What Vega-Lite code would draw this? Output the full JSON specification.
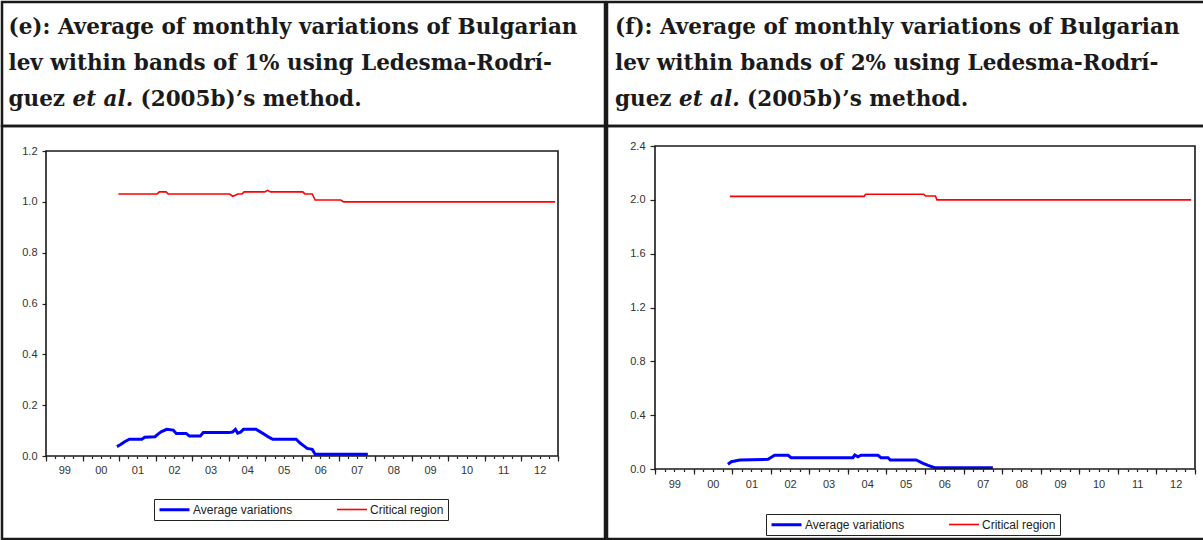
{
  "$schema": "https://vega.github.io/schema/vega-lite/v6.json",
  "padding": 0,
  "background": "white",
  "spacing": -2.5,
  "resolve": {"legend": {"color": "independent", "strokeWidth": "independent"}},
  "config": {
    "view": {"stroke": "#1a1a1a", "strokeWidth": 2.5},
    "font": "Liberation Sans"
  },
  "datasets": {
    "hE": [
      {"line": 1, "part": "a", "text": "(e): Average of monthly variations of Bulgarian"},
      {"line": 2, "part": "a", "text": "lev within bands of 1% using Ledesma-Rodrí-"},
      {"line": 3, "part": "a", "text": "guez"},
      {"line": 3, "part": "b", "text": "et al."},
      {"line": 3, "part": "c", "text": "(2005b)’s method."}
    ],
    "hF": [
      {"line": 1, "part": "a", "text": "(f): Average of monthly variations of Bulgarian"},
      {"line": 2, "part": "a", "text": "lev within bands of 2% using Ledesma-Rodrí-"},
      {"line": 3, "part": "a", "text": "guez"},
      {"line": 3, "part": "b", "text": "et al."},
      {"line": 3, "part": "c", "text": "(2005b)’s method."}
    ],
    "e": [
      {"t": 2000.94, "v": 0.037, "series": "Average variations"},
      {"t": 2001.04, "v": 0.045, "series": "Average variations"},
      {"t": 2001.14, "v": 0.055, "series": "Average variations"},
      {"t": 2001.28, "v": 0.066, "series": "Average variations"},
      {"t": 2001.62, "v": 0.066, "series": "Average variations"},
      {"t": 2001.70, "v": 0.074, "series": "Average variations"},
      {"t": 2001.98, "v": 0.076, "series": "Average variations"},
      {"t": 2002.08, "v": 0.088, "series": "Average variations"},
      {"t": 2002.16, "v": 0.096, "series": "Average variations"},
      {"t": 2002.30, "v": 0.105, "series": "Average variations"},
      {"t": 2002.48, "v": 0.102, "series": "Average variations"},
      {"t": 2002.56, "v": 0.089, "series": "Average variations"},
      {"t": 2002.83, "v": 0.089, "series": "Average variations"},
      {"t": 2002.92, "v": 0.079, "series": "Average variations"},
      {"t": 2003.22, "v": 0.079, "series": "Average variations"},
      {"t": 2003.30, "v": 0.092, "series": "Average variations"},
      {"t": 2004.00, "v": 0.092, "series": "Average variations"},
      {"t": 2004.10, "v": 0.094, "series": "Average variations"},
      {"t": 2004.18, "v": 0.105, "series": "Average variations"},
      {"t": 2004.24, "v": 0.090, "series": "Average variations"},
      {"t": 2004.32, "v": 0.094, "series": "Average variations"},
      {"t": 2004.40, "v": 0.105, "series": "Average variations"},
      {"t": 2004.74, "v": 0.105, "series": "Average variations"},
      {"t": 2004.86, "v": 0.095, "series": "Average variations"},
      {"t": 2004.98, "v": 0.085, "series": "Average variations"},
      {"t": 2005.08, "v": 0.075, "series": "Average variations"},
      {"t": 2005.20, "v": 0.066, "series": "Average variations"},
      {"t": 2005.84, "v": 0.066, "series": "Average variations"},
      {"t": 2005.94, "v": 0.052, "series": "Average variations"},
      {"t": 2006.06, "v": 0.039, "series": "Average variations"},
      {"t": 2006.14, "v": 0.030, "series": "Average variations"},
      {"t": 2006.28, "v": 0.026, "series": "Average variations"},
      {"t": 2006.36, "v": 0.007, "series": "Average variations"},
      {"t": 2007.80, "v": 0.007, "series": "Average variations"},
      {"t": 2000.98, "v": 1.031, "series": "Critical region"},
      {"t": 2002.04, "v": 1.031, "series": "Critical region"},
      {"t": 2002.10, "v": 1.039, "series": "Critical region"},
      {"t": 2002.28, "v": 1.039, "series": "Critical region"},
      {"t": 2002.34, "v": 1.031, "series": "Critical region"},
      {"t": 2004.02, "v": 1.031, "series": "Critical region"},
      {"t": 2004.10, "v": 1.022, "series": "Critical region"},
      {"t": 2004.18, "v": 1.026, "series": "Critical region"},
      {"t": 2004.24, "v": 1.031, "series": "Critical region"},
      {"t": 2004.36, "v": 1.031, "series": "Critical region"},
      {"t": 2004.42, "v": 1.039, "series": "Critical region"},
      {"t": 2004.98, "v": 1.039, "series": "Critical region"},
      {"t": 2005.06, "v": 1.045, "series": "Critical region"},
      {"t": 2005.14, "v": 1.039, "series": "Critical region"},
      {"t": 2006.02, "v": 1.039, "series": "Critical region"},
      {"t": 2006.08, "v": 1.031, "series": "Critical region"},
      {"t": 2006.28, "v": 1.031, "series": "Critical region"},
      {"t": 2006.36, "v": 1.007, "series": "Critical region"},
      {"t": 2007.06, "v": 1.007, "series": "Critical region"},
      {"t": 2007.14, "v": 1.000, "series": "Critical region"},
      {"t": 2012.92, "v": 1.000, "series": "Critical region"}
    ],
    "f": [
      {"t": 2000.89, "v": 0.035, "series": "Average variations"},
      {"t": 2000.98, "v": 0.054, "series": "Average variations"},
      {"t": 2001.20, "v": 0.067, "series": "Average variations"},
      {"t": 2001.93, "v": 0.072, "series": "Average variations"},
      {"t": 2002.10, "v": 0.102, "series": "Average variations"},
      {"t": 2002.45, "v": 0.102, "series": "Average variations"},
      {"t": 2002.53, "v": 0.084, "series": "Average variations"},
      {"t": 2004.13, "v": 0.084, "series": "Average variations"},
      {"t": 2004.18, "v": 0.104, "series": "Average variations"},
      {"t": 2004.26, "v": 0.090, "series": "Average variations"},
      {"t": 2004.34, "v": 0.102, "series": "Average variations"},
      {"t": 2004.78, "v": 0.102, "series": "Average variations"},
      {"t": 2004.86, "v": 0.084, "series": "Average variations"},
      {"t": 2005.04, "v": 0.084, "series": "Average variations"},
      {"t": 2005.10, "v": 0.067, "series": "Average variations"},
      {"t": 2005.77, "v": 0.067, "series": "Average variations"},
      {"t": 2005.95, "v": 0.042, "series": "Average variations"},
      {"t": 2006.08, "v": 0.027, "series": "Average variations"},
      {"t": 2006.25, "v": 0.010, "series": "Average variations"},
      {"t": 2007.76, "v": 0.010, "series": "Average variations"},
      {"t": 2000.94, "v": 2.026, "series": "Critical region"},
      {"t": 2004.42, "v": 2.026, "series": "Critical region"},
      {"t": 2004.46, "v": 2.041, "series": "Critical region"},
      {"t": 2005.97, "v": 2.041, "series": "Critical region"},
      {"t": 2006.01, "v": 2.028, "series": "Critical region"},
      {"t": 2006.27, "v": 2.028, "series": "Critical region"},
      {"t": 2006.31, "v": 2.000, "series": "Critical region"},
      {"t": 2012.90, "v": 2.000, "series": "Critical region"}
    ]
  },
  "hconcat": [
    {
      "spacing": 0,
      "bounds": "flush",
      "vconcat": [
        {
          "width": 603,
          "height": 124,
          "data": {"name": "hE"},
          "encoding": {
            "y": {"field": "line", "type": "ordinal", "axis": null, "scale": {"type": "point", "padding": 0.7}},
            "text": {"field": "text"}
          },
          "layer": [
            {"transform": [{"filter": "datum.part === 'a'"}], "mark": {"type": "text", "align": "left", "baseline": "middle", "font": "DejaVu Serif", "fontWeight": "bold", "fontSize": 21.5, "color": "#1a1a1a", "dx": -295}},
            {"transform": [{"filter": "datum.part === 'b'"}], "mark": {"type": "text", "align": "left", "baseline": "middle", "font": "DejaVu Serif", "fontWeight": "bold", "fontStyle": "italic", "fontSize": 21.5, "color": "#1a1a1a", "dx": -231}},
            {"transform": [{"filter": "datum.part === 'c'"}], "mark": {"type": "text", "align": "left", "baseline": "middle", "font": "DejaVu Serif", "fontWeight": "bold", "fontSize": 21.5, "color": "#1a1a1a", "dx": -163}}
          ]
        },
        {
          "width": 603,
          "height": 413,
          "data": {"name": "e"},
          "resolve": {"axis": {"x": "independent"}},
          "layer": [
            {
              "mark": {"type": "line", "interpolate": "linear"},
              "encoding": {
                "x": {
                  "field": "t", "type": "quantitative",
                  "scale": {"domain": [1999, 2013], "range": [44, 556], "nice": false, "zero": false},
                  "axis": {
                    "orient": "bottom", "offset": -83, "title": null, "grid": false, "domain": false,
                    "values": [1999,1999.25,1999.5,1999.75,2000,2000.25,2000.5,2000.75,2001,2001.25,2001.5,2001.75,2002,2002.25,2002.5,2002.75,2003,2003.25,2003.5,2003.75,2004,2004.25,2004.5,2004.75,2005,2005.25,2005.5,2005.75,2006,2006.25,2006.5,2006.75,2007,2007.25,2007.5,2007.75,2008,2008.25,2008.5,2008.75,2009,2009.25,2009.5,2009.75,2010,2010.25,2010.5,2010.75,2011,2011.25,2011.5,2011.75,2012,2012.25,2012.5,2012.75,2013],
                    "tickSize": 2.5, "tickColor": "#222", "tickWidth": 1.2,
                    "labelExpr": "datum.value % 1 === 0.5 ? (floor(datum.value) % 100 < 10 ? '0' + (floor(datum.value) % 100) : '' + (floor(datum.value) % 100)) : ''",
                    "labelFont": "Liberation Sans", "labelFontSize": 11, "labelColor": "#333", "labelPadding": 6,
                    "labelOverlap": false, "labelFlush": false
                  }
                },
                "y": {
                  "field": "v", "type": "quantitative",
                  "scale": {"domain": [0, 1.2], "range": [330, 25], "nice": false, "zero": false},
                  "axis": {
                    "orient": "left", "offset": -44, "title": null, "grid": false, "domain": false,
                    "values": [0, 0.2, 0.4, 0.6, 0.8, 1.0, 1.2], "format": ".1f",
                    "tickSize": 4, "tickColor": "#222", "tickWidth": 1.2,
                    "labelFont": "Liberation Sans", "labelFontSize": 11, "labelColor": "#333", "labelPadding": 5,
                    "labelOverlap": false, "labelFlush": false
                  }
                },
                "color": {
                  "field": "series", "type": "nominal",
                  "scale": {"domain": ["Average variations", "Critical region"], "range": ["#0000ff", "#ff0000"]},
                  "legend": {"orient": "none", "legendX": 152, "legendY": 497, "direction": "horizontal", "title": null, "strokeColor": "#222", "fillColor": "white", "padding": 4, "symbolType": "M-3,0H3", "symbolSize": 100, "symbolOffset": 10, "labelOffset": 12, "labelFont": "Liberation Sans", "labelFontSize": 12, "labelColor": "#222", "columnPadding": 40}
                },
                "strokeWidth": {
                  "field": "series", "type": "nominal",
                  "scale": {"domain": ["Average variations", "Critical region"], "range": [3, 1.6]},
                  "legend": {"orient": "none", "legendX": 152, "legendY": 497, "direction": "horizontal", "title": null, "strokeColor": "#222", "fillColor": "white", "padding": 4, "symbolType": "M-3,0H3", "symbolSize": 100, "symbolOffset": 10, "labelOffset": 12, "labelFont": "Liberation Sans", "labelFontSize": 12, "labelColor": "#222", "columnPadding": 40}
                }
              }
            },
            {
              "data": {"values": [{}]},
              "mark": {"type": "rect", "fillOpacity": 0, "stroke": "#1a1a1a", "strokeWidth": 1.6},
              "encoding": {
                "x": {"datum": 1999, "type": "quantitative", "axis": {"orient": "bottom", "offset": -83, "title": null, "grid": false, "domain": false, "labels": false, "values": [1999,2000,2001,2002,2003,2004,2005,2006,2007,2008,2009,2010,2011,2012,2013], "tickSize": 5, "tickColor": "#222", "tickWidth": 1.2}},
                "x2": {"datum": 2013},
                "y": {"datum": 0, "type": "quantitative"},
                "y2": {"datum": 1.2}
              }
            }
          ]
        }
      ]
    },
    {
      "spacing": 0,
      "bounds": "flush",
      "vconcat": [
        {
          "width": 598,
          "height": 124,
          "data": {"name": "hF"},
          "encoding": {
            "y": {"field": "line", "type": "ordinal", "axis": null, "scale": {"type": "point", "padding": 0.7}},
            "text": {"field": "text"}
          },
          "layer": [
            {"transform": [{"filter": "datum.part === 'a'"}], "mark": {"type": "text", "align": "left", "baseline": "middle", "font": "DejaVu Serif", "fontWeight": "bold", "fontSize": 21.5, "color": "#1a1a1a", "dx": -291}},
            {"transform": [{"filter": "datum.part === 'b'"}], "mark": {"type": "text", "align": "left", "baseline": "middle", "font": "DejaVu Serif", "fontWeight": "bold", "fontStyle": "italic", "fontSize": 21.5, "color": "#1a1a1a", "dx": -227}},
            {"transform": [{"filter": "datum.part === 'c'"}], "mark": {"type": "text", "align": "left", "baseline": "middle", "font": "DejaVu Serif", "fontWeight": "bold", "fontSize": 21.5, "color": "#1a1a1a", "dx": -159}}
          ]
        },
        {
          "width": 598,
          "height": 413,
          "data": {"name": "f"},
          "resolve": {"axis": {"x": "independent"}},
          "layer": [
            {
              "mark": {"type": "line", "interpolate": "linear"},
              "encoding": {
                "x": {
                  "field": "t", "type": "quantitative",
                  "scale": {"domain": [1999, 2013], "range": [48, 588], "nice": false, "zero": false},
                  "axis": {
                    "orient": "bottom", "offset": -70, "title": null, "grid": false, "domain": false,
                    "values": [1999,1999.25,1999.5,1999.75,2000,2000.25,2000.5,2000.75,2001,2001.25,2001.5,2001.75,2002,2002.25,2002.5,2002.75,2003,2003.25,2003.5,2003.75,2004,2004.25,2004.5,2004.75,2005,2005.25,2005.5,2005.75,2006,2006.25,2006.5,2006.75,2007,2007.25,2007.5,2007.75,2008,2008.25,2008.5,2008.75,2009,2009.25,2009.5,2009.75,2010,2010.25,2010.5,2010.75,2011,2011.25,2011.5,2011.75,2012,2012.25,2012.5,2012.75,2013],
                    "tickSize": 2.5, "tickColor": "#222", "tickWidth": 1.2,
                    "labelExpr": "datum.value % 1 === 0.5 ? (floor(datum.value) % 100 < 10 ? '0' + (floor(datum.value) % 100) : '' + (floor(datum.value) % 100)) : ''",
                    "labelFont": "Liberation Sans", "labelFontSize": 11, "labelColor": "#333", "labelPadding": 7,
                    "labelOverlap": false, "labelFlush": false
                  }
                },
                "y": {
                  "field": "v", "type": "quantitative",
                  "scale": {"domain": [0, 2.4], "range": [343, 20], "nice": false, "zero": false},
                  "axis": {
                    "orient": "left", "offset": -48, "title": null, "grid": false, "domain": false,
                    "values": [0, 0.4, 0.8, 1.2, 1.6, 2.0, 2.4], "format": ".1f",
                    "tickSize": 5, "tickColor": "#222", "tickWidth": 1.2,
                    "labelFont": "Liberation Sans", "labelFontSize": 11, "labelColor": "#333", "labelPadding": 5,
                    "labelOverlap": false, "labelFlush": false
                  }
                },
                "color": {
                  "field": "series", "type": "nominal",
                  "scale": {"domain": ["Average variations", "Critical region"], "range": ["#0000ff", "#ff0000"]},
                  "legend": {"orient": "none", "legendX": 159, "legendY": 512, "direction": "horizontal", "title": null, "strokeColor": "#222", "fillColor": "white", "padding": 4, "symbolType": "M-3,0H3", "symbolSize": 100, "symbolOffset": 10, "labelOffset": 12, "labelFont": "Liberation Sans", "labelFontSize": 12, "labelColor": "#222", "columnPadding": 40}
                },
                "strokeWidth": {
                  "field": "series", "type": "nominal",
                  "scale": {"domain": ["Average variations", "Critical region"], "range": [3, 1.6]},
                  "legend": {"orient": "none", "legendX": 159, "legendY": 512, "direction": "horizontal", "title": null, "strokeColor": "#222", "fillColor": "white", "padding": 4, "symbolType": "M-3,0H3", "symbolSize": 100, "symbolOffset": 10, "labelOffset": 12, "labelFont": "Liberation Sans", "labelFontSize": 12, "labelColor": "#222", "columnPadding": 40}
                }
              }
            },
            {
              "data": {"values": [{}]},
              "mark": {"type": "rect", "fillOpacity": 0, "stroke": "#1a1a1a", "strokeWidth": 1.6},
              "encoding": {
                "x": {"datum": 1999, "type": "quantitative", "axis": {"orient": "bottom", "offset": -70, "title": null, "grid": false, "domain": false, "labels": false, "values": [1999,2000,2001,2002,2003,2004,2005,2006,2007,2008,2009,2010,2011,2012,2013], "tickSize": 5, "tickColor": "#222", "tickWidth": 1.2}},
                "x2": {"datum": 2013},
                "y": {"datum": 0, "type": "quantitative"},
                "y2": {"datum": 2.4}
              }
            }
          ]
        }
      ]
    }
  ]
}
